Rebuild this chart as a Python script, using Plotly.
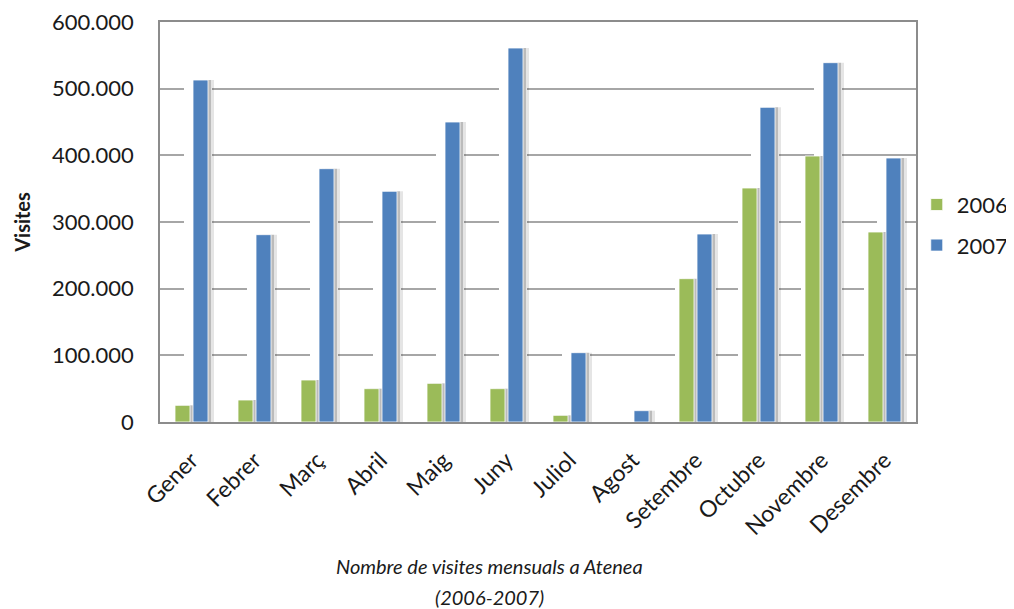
import plotly.graph_objects as go

months = ["Gener", "Febrer", "Març", "Abril", "Maig", "Juny", "Juliol", "Agost",
          "Setembre", "Octubre", "Novembre", "Desembre"]
visits_2006 = [25000, 33000, 63000, 50000, 58000, 50000, 10000, 0,
               215000, 351000, 399000, 285000]
visits_2007 = [513000, 281000, 380000, 346000, 450000, 561000, 104000, 17000,
               282000, 472000, 539000, 396000]
series_names = ["2006", "2007"]
y_ticks = [0, 100000, 200000, 300000, 400000, 500000, 600000]

GREEN = "#9BBB59"
BLUE = "#4F81BD"
PX = 1 / 63.0  # one pixel in category units
BW = 15 * PX

fig = go.Figure()

offsets = {"2006": -16.5 * PX, "2007": 1.5 * PX}
colors = {"2006": GREEN, "2007": BLUE}
data = {"2006": visits_2006, "2007": visits_2007}

# white halos (interrupt gridlines around bars)
fig.add_trace(go.Bar(x=months, y=visits_2006, offset=offsets["2006"] - 4 * PX, width=BW + 8 * PX,
                     marker=dict(color="white", line=dict(width=0)), showlegend=False, hoverinfo="skip"))
fig.add_trace(go.Bar(x=months, y=visits_2007, offset=offsets["2007"] - 9 * PX, width=BW + 13 * PX,
                     marker=dict(color="white", line=dict(width=0)), showlegend=False, hoverinfo="skip"))
# soft shadows
for name in series_names:
    for shift, alpha in [(3, 0.18), (6, 0.10)]:
        fig.add_trace(go.Bar(x=months, y=data[name], offset=offsets[name] + shift * PX, width=BW,
                             marker=dict(color=f"rgba(0,0,0,{alpha})", line=dict(width=0)),
                             showlegend=False, hoverinfo="skip"))
# main bars
for name in series_names:
    fig.add_trace(go.Bar(x=months, y=data[name], name=name, offset=offsets[name], width=BW,
                         marker=dict(color=colors[name], line=dict(color="white", width=0.8)),
                         legendgroup=name))

FONT = "Lato"
TXT = "#1a1a1a"
fig.update_layout(
    width=1006, height=601,
    barmode="overlay",
    separators=",.",
    plot_bgcolor="white", paper_bgcolor="white",
    margin=dict(l=152, r=98, t=14, b=187, autoexpand=False),
    font=dict(family=FONT, color=TXT),
    showlegend=True,
    legend=dict(x=1.001, y=0.492, xanchor="left", yanchor="middle",
                font=dict(size=22, family=FONT, color=TXT),
                tracegroupgap=9, itemwidth=30, bgcolor="rgba(0,0,0,0)"),
    annotations=[
        dict(text="<i>Nombre de visites mensuals a Atenea</i>", xref="paper", yref="paper",
             x=0.4365, y=-0.36, xanchor="center", yanchor="middle", showarrow=False,
             font=dict(size=20, family=FONT, color=TXT)),
        dict(text="<i>(2006-2007)</i>", xref="paper", yref="paper",
             x=0.4365, y=-0.437, xanchor="center", yanchor="middle", showarrow=False,
             font=dict(size=20, family=FONT, color=TXT)),
    ],
)
fig.update_yaxes(
    range=[0, 600000], tickvals=y_ticks, tickformat=",d", automargin=False,
    ticklabeloverflow="allow",
    showgrid=True, gridcolor="#a6a6a6", gridwidth=1.5,
    showline=True, linecolor="#8c8c8c", linewidth=1.5, mirror=True,
    ticks="outside", ticklen=20, tickcolor="rgba(0,0,0,0)",
    tickfont=dict(size=22, family=FONT, color=TXT),
    title=dict(text="<b>Visites</b>", font=dict(size=20, family=FONT, color=TXT), standoff=16),
    zeroline=False,
)
fig.update_xaxes(
    type="category", range=[-0.5, 11.5], tickangle=-45, automargin=False,
    showline=True, linecolor="#8c8c8c", linewidth=1.5, mirror=True,
    ticks="outside", ticklen=14, tickcolor="rgba(0,0,0,0)",
    tickfont=dict(size=23, family=FONT, color=TXT),
    showgrid=False,
)

fig.write_html("out.html")
